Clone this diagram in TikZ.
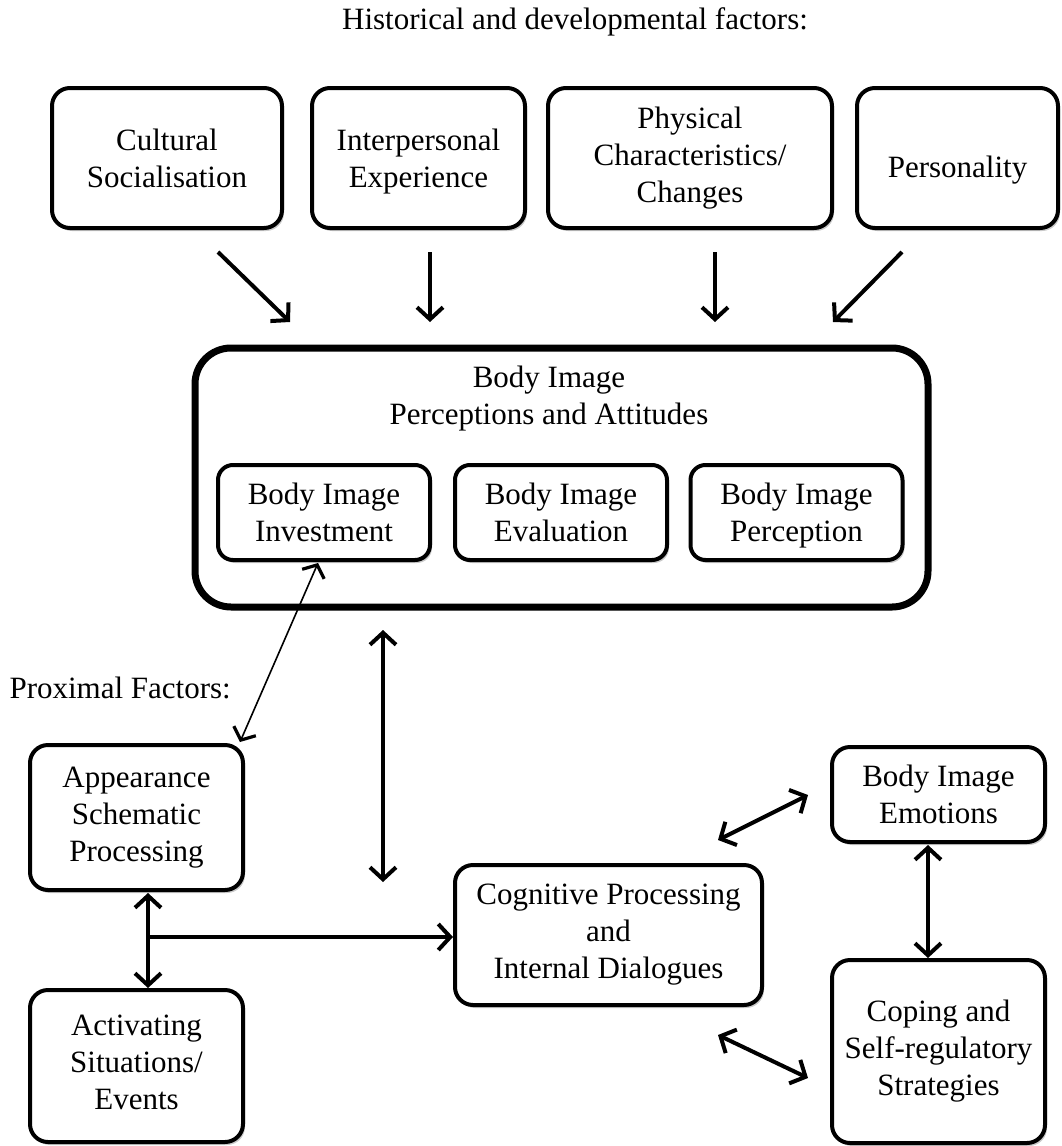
\documentclass[tikz,border=0pt]{standalone}
\usepackage{fontspec}
\setmainfont{Liberation Serif}
\usetikzlibrary{arrows.meta,shadows}
\begin{document}
\begin{tikzpicture}[x=1pt,y=-1pt]
\tikzset{
 box/.style={draw, line width=4pt, rounded corners=18pt, fill=white, align=center,
   font=\fontsize{31}{37}\selectfont, inner sep=0pt, text depth=7pt,
   drop shadow={shadow xshift=2pt,shadow yshift=-3pt,fill=black!35,opacity=0.6}},
 arr/.style={line width=4pt, -{Straight Barb[length=12pt,width=26pt]}},
 darr/.style={line width=4pt, {Straight Barb[length=12pt,width=26pt]}-{Straight Barb[length=12pt,width=26pt]}},
 thinarr/.style={line width=1.6pt, {Straight Barb[length=10pt,width=24pt,line width=3.2pt]}-{Straight Barb[length=10pt,width=24pt,line width=3.2pt]}},
 lbl/.style={font=\fontsize{31}{37}\selectfont, align=center}
}
\useasboundingbox (0,0) rectangle (1061,1146);

\node[lbl] (title) at (575,22) {Historical and developmental factors:};

\node[box, text depth=-6pt, minimum width=230pt, minimum height=140pt] (cult) at (167,158) {Cultural\\Socialisation};
\node[box, text depth=-6pt, minimum width=213pt, minimum height=140pt] (inter) at (418.5,158) {Interpersonal\\Experience};
\node[box, minimum width=284pt, minimum height=140pt] (phys) at (690,158) {Physical\\Characteristics/\\Changes};
\node[box, text height=45pt, minimum width=201pt, minimum height=140pt] (pers) at (957.5,158) {Personality};

\node[box, line width=7pt, rounded corners=36pt, minimum width=733pt, minimum height=259pt] (bi) at (561.5,477.5) {};
\node[lbl] (bititle) at (549,399) {Body Image\\Perceptions and Attitudes};
\node[box, text depth=0pt, rounded corners=15pt, minimum width=212pt, minimum height=95pt] (inv) at (324,512.5) {Body Image\\Investment};
\node[box, text depth=0pt, rounded corners=15pt, minimum width=212pt, minimum height=95pt] (eva) at (561,512.5) {Body Image\\Evaluation};
\node[box, text depth=0pt, rounded corners=15pt, minimum width=212pt, minimum height=95pt] (perc) at (796.5,512.5) {Body Image\\Perception};

\node[lbl, anchor=west] (prox) at (6,688) {Proximal Factors:};

\node[box, minimum width=213pt, minimum height=145pt] (app) at (136.5,817.5) {Appearance\\Schematic\\Processing};
\node[box, minimum width=213pt, minimum height=152pt] (act) at (136.5,1066) {Activating\\Situations/\\Events};
\node[box, minimum width=307pt, minimum height=140pt] (cog) at (608.5,935) {Cognitive Processing\\and\\Internal Dialogues};
\node[box, text depth=0pt, minimum width=213pt, minimum height=95pt] (emo) at (938.5,794.5) {Body Image\\Emotions};
\node[box, minimum width=213pt, minimum height=183pt] (cop) at (938.5,1051.5) {Coping and\\Self-regulatory\\Strategies};

% top arrows
\coordinate (a1s) at (218,252); \coordinate (a1e) at (290,322);
\coordinate (a2s) at (430,252); \coordinate (a2e) at (430,322);
\coordinate (a3s) at (715,252); \coordinate (a3e) at (715,322);
\coordinate (a4s) at (902,252); \coordinate (a4e) at (833,322);
\draw[arr] (a1s) -- (a1e);
\draw[arr] (a2s) -- (a2e);
\draw[arr] (a3s) -- (a3e);
\draw[arr] (a4s) -- (a4e);

% thin arrow investment - appearance
\coordinate (t1) at (318,563); \coordinate (t2) at (240,742);
\draw[thinarr] (t1) -- (t2);

% big vertical
\coordinate (v1) at (383,630); \coordinate (v2) at (383,882);
\draw[darr] (v1) -- (v2);

% appearance - activating
\coordinate (aa1) at (148,893); \coordinate (aa2) at (148,988);
\draw[darr] (aa1) -- (aa2);
\coordinate (hj) at (148,937);
\draw[arr] (hj) -- (cog.west |- hj);

% cognitive - emotions / coping
\coordinate (ce1) at (718,840); \coordinate (ce2) at (808,795);
\draw[darr] (ce1) -- (ce2);
\coordinate (cc1) at (718,1035); \coordinate (cc2) at (808,1078);
\draw[darr] (cc1) -- (cc2);

% emotions - coping
\coordinate (ec1) at (928,845); \coordinate (ec2) at (928,958);
\draw[darr] (ec1) -- (ec2);
\end{tikzpicture}
\end{document}
